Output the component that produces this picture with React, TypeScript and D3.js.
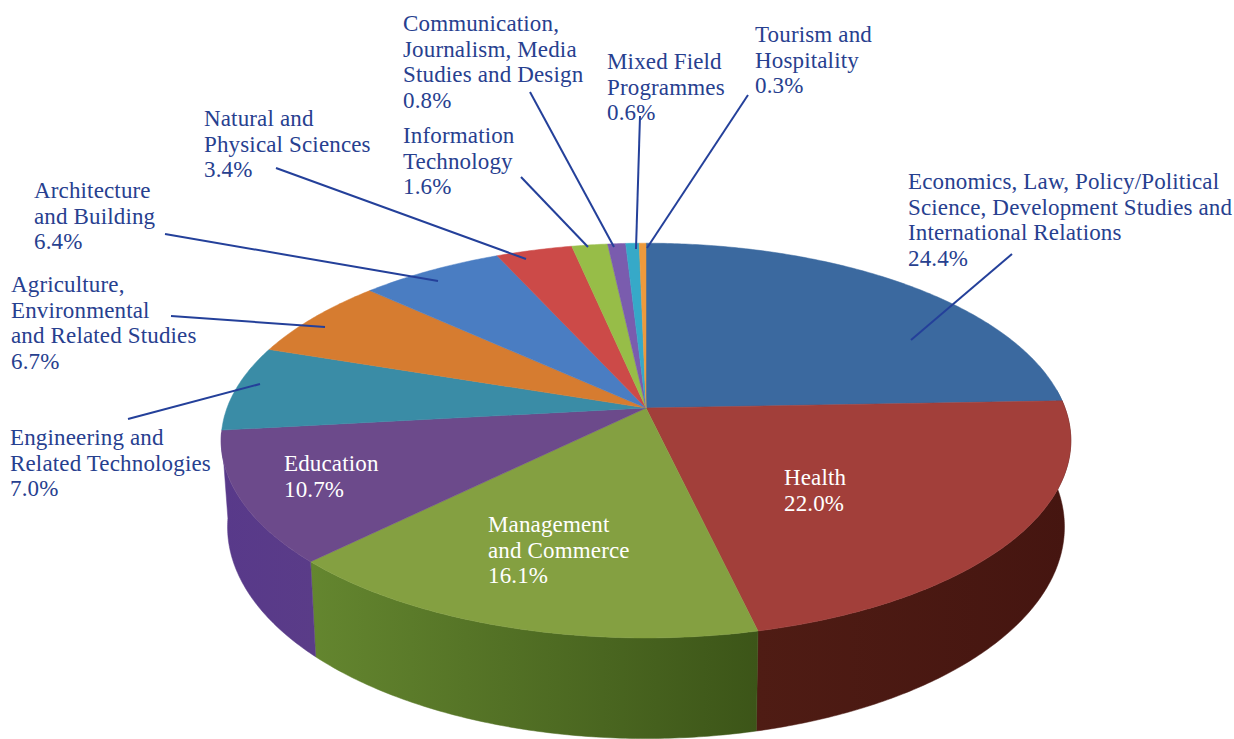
import React, { useMemo } from "react";
import * as d3 from "d3";

const WIDTH = 1234;
const HEIGHT = 739;

// field of education, clockwise from 12 o'clock
const categories = [
  "Economics, Law, Policy/Political Science, Development Studies and International Relations",
  "Health",
  "Management and Commerce",
  "Education",
  "Engineering and Related Technologies",
  "Agriculture, Environmental and Related Studies",
  "Architecture and Building",
  "Natural and Physical Sciences",
  "Information Technology",
  "Communication, Journalism, Media Studies and Design",
  "Mixed Field Programmes",
  "Tourism and Hospitality",
];
const shares = [24.4, 22.0, 16.1, 10.7, 7.0, 6.7, 6.4, 3.4, 1.6, 0.8, 0.6, 0.3];
const topColors = [
  "#3b699f", "#a23f3a", "#84a041", "#6c4a8b", "#3a8ca6", "#d67c30",
  "#4a7dc2", "#cc4a48", "#97bd48", "#7a5cae", "#36a9c8", "#ee9a3c",
];
// [left, right] of the rim, so the wall darkens like the original
const sideColors = [
  ["#2f5480", "#2f5480"], ["#4f1c14", "#451510"], ["#64862f", "#3c5518"], ["#58398a", "#5a3c88"],
  ["#3a8ca6", "#3a8ca6"], ["#d67c30", "#d67c30"], ["#4a7dc2", "#4a7dc2"], ["#cc4a48", "#cc4a48"],
  ["#97bd48", "#97bd48"], ["#7a5cae", "#7a5cae"], ["#36a9c8", "#36a9c8"], ["#ee9a3c", "#ee9a3c"],
];

const labelLines = [
  ["Economics, Law, Policy/Political", "Science, Development Studies and", "International Relations"],
  ["Health"],
  ["Management", "and Commerce"],
  ["Education"],
  ["Engineering and", "Related Technologies"],
  ["Agriculture,", "Environmental", "and Related Studies"],
  ["Architecture", "and Building"],
  ["Natural and", "Physical Sciences"],
  ["Information", "Technology"],
  ["Communication,", "Journalism, Media", "Studies and Design"],
  ["Mixed Field", "Programmes"],
  ["Tourism and", "Hospitality"],
];

// where the label block starts (first baseline) and its leader line
const LABEL_POS: [number, number][] = [
  [908, 189], [784, 485], [488, 532], [284, 471], [10, 445], [11, 292],
  [34, 198], [204, 126], [403, 143], [403, 31], [607, 69], [755, 42],
];
const LEADERS: ([number, number, number, number] | null)[] = [
  [1012, 254, 911, 340], null, null, null,
  [128, 419, 260, 384], [171, 316, 325, 327], [165, 234, 438, 281], [276, 168, 526, 259],
  [521, 177, 588, 247], [530, 92, 614, 247], [640, 116, 636, 249], [748, 95, 647, 248],
];
const WHITE_LABELS = [1, 2, 3];

const LINE_HEIGHT = 25.7;
const CX = 646;
const CY = 408;
const RX = 419;
const RY = 192;
const TILT = 0.165; // perspective, near rim is bigger
const DEPTH = 84;

// pie angle -> screen point on the tilted disc
const project = (angle: number, drop = 0, shrink = 1): [number, number] => {
  const u = Math.sin(angle);
  const v = -Math.cos(angle);
  const w = 1 - TILT * v;
  return [CX + (RX * u * shrink) / w, CY + (RY * v + drop) / w];
};

const arcAngles = (a0: number, a1: number) => {
  const n = Math.max(2, Math.ceil((a1 - a0) / 0.01));
  return d3.range(n + 1).map((i) => a0 + ((a1 - a0) * i) / n);
};

export default function App() {
  const slices = useMemo(
    () => d3.pie<number>().sort(null).value((d) => d)(shares),
    []
  );
  const line = d3.line();

  const sides = slices.map((s, i) => {
    const a0 = Math.max(s.startAngle, Math.PI * 0.47);
    const a1 = Math.min(s.endAngle, Math.PI * 1.46);
    if (a1 <= a0) return null;
    const angles = arcAngles(a0, a1);
    const top = angles.map((a) => project(a));
    const bottom = angles.map((a) => project(a, DEPTH, 0.985)).reverse();
    const xs = [...top, ...bottom].map((p) => p[0]);
    return { i, d: line([...top, ...bottom]) + "Z", x0: d3.min(xs)!, x1: d3.max(xs)! };
  });

  const tops = slices.map((s) => {
    const pts = arcAngles(s.startAngle, s.endAngle).map((a) => project(a));
    return line([[CX, CY], ...pts]) + "Z";
  });

  return (
    <svg
      width={WIDTH}
      height={HEIGHT}
      style={{ position: "absolute", left: 0, top: 0, background: "#fff" }}
    >
      <defs>
        {sides.map(
          (s) =>
            s && (
              <linearGradient
                key={s.i}
                id={`side-${s.i}`}
                gradientUnits="userSpaceOnUse"
                x1={s.x0}
                x2={s.x1}
                y1={0}
                y2={0}
              >
                <stop offset="0%" stopColor={sideColors[s.i][0]} />
                <stop offset="100%" stopColor={sideColors[s.i][1]} />
              </linearGradient>
            )
        )}
      </defs>

      {sides.map(
        (s) => s && <path key={s.i} d={s.d} fill={`url(#side-${s.i})`} stroke={`url(#side-${s.i})`} strokeWidth={0.5} />
      )}
      {tops.map((d, i) => (
        <path key={i} d={d} fill={topColors[i]} stroke={topColors[i]} strokeWidth={0.5} />
      ))}

      {LEADERS.map(
        (l, i) =>
          l && <line key={i} x1={l[0]} y1={l[1]} x2={l[2]} y2={l[3]} stroke="#24409a" strokeWidth={2} />
      )}

      {categories.map((c, i) => {
        const lines = [...labelLines[i], `${shares[i].toFixed(1)}%`];
        const [x, y] = LABEL_POS[i];
        return (
          <text
            key={c}
            fontFamily="'Liberation Serif', serif"
            fontSize={23}
            letterSpacing={0.15}
            fill={WHITE_LABELS.includes(i) ? "#ffffff" : "#27408f"}
          >
            {lines.map((t, j) => (
              <tspan key={j} x={x} y={y + j * LINE_HEIGHT}>
                {t}
              </tspan>
            ))}
          </text>
        );
      })}
    </svg>
  );
}
